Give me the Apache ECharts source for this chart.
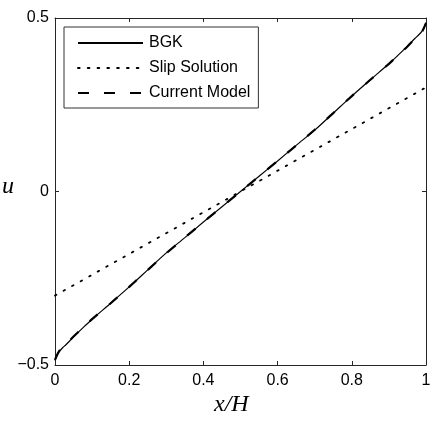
<!DOCTYPE html>
<html>
<head>
<meta charset="utf-8">
<script src="https://cdn.jsdelivr.net/npm/echarts@6/dist/echarts.min.js"></script>
<style>html,body{margin:0;padding:0;background:#fff}#c{width:432px;height:426px}</style>
</head>
<body>
<div id="c"></div>
<script>
// Data
var bgkX = [0, 0.005, 0.01, 0.02, 0.03, 0.05, 0.075, 0.1, 0.15, 0.2, 0.25, 0.3, 0.35, 0.4, 0.45, 0.5, 0.55, 0.6, 0.65, 0.7, 0.75, 0.8, 0.85, 0.9, 0.925, 0.95, 0.97, 0.98, 0.99, 0.995, 1];
var bgkU = [-0.487, -0.472, -0.463, -0.451, -0.441, -0.419, -0.393, -0.368, -0.322, -0.275, -0.226, -0.177, -0.133, -0.088, -0.044, 0, 0.044, 0.088, 0.133, 0.177, 0.226, 0.275, 0.322, 0.368, 0.393, 0.419, 0.441, 0.451, 0.463, 0.472, 0.487];
var modelX = [0, 0.01, 0.02, 0.03, 0.05, 0.075, 0.1, 0.15, 0.2, 0.25, 0.3, 0.4, 0.5, 0.6, 0.7, 0.75, 0.8, 0.85, 0.9, 0.925, 0.95, 0.97, 0.98, 0.99, 1];
var modelU = [-0.485, -0.462, -0.450, -0.440, -0.418, -0.393, -0.368, -0.322, -0.275, -0.226, -0.178, -0.088, 0, 0.088, 0.178, 0.226, 0.275, 0.322, 0.368, 0.393, 0.418, 0.440, 0.450, 0.462, 0.485];
var slipX = [0, 1];
var slipU = [-0.3, 0.3];
var seriesNames = ['BGK', 'Slip Solution', 'Current Model'];
var xTicks = [0, 0.2, 0.4, 0.6, 0.8, 1];
var yTicks = [-0.5, 0, 0.5];

function pairs(xs, ys) { return xs.map(function (x, i) { return [x, ys[i]]; }); }

var axisColor = '#262626';
var labelFont = { color: '#000', fontFamily: 'Liberation Sans, Arial, sans-serif', fontSize: 16 };
function fmt(v) { return String(v).replace('-', '\u2212'); }

var chart = echarts.init(document.getElementById('c'), null, { renderer: 'canvas' });
chart.setOption({
  animation: false,
  backgroundColor: '#fff',
  grid: { left: 55, right: 6, top: 18, bottom: 61, outerBoundsMode: 'none' },
  legend: {
    orient: 'vertical',
    left: 64, top: 27,
    padding: [8, 8, 7, 13],
    itemWidth: 65, itemHeight: 14, itemGap: 9,
    backgroundColor: '#fff',
    borderColor: '#333', borderWidth: 1, borderRadius: 0,
    itemStyle: { opacity: 0 },
    textStyle: { color: '#000', fontFamily: 'Liberation Sans, Arial, sans-serif', fontSize: 16, padding: [0, 0, 0, 1] },
    data: seriesNames
  },
  xAxis: [{
    type: 'value', min: 0, max: 1, interval: 0.2, position: 'bottom',
    splitLine: { show: false },
    axisLine: { show: true, onZero: false, lineStyle: { color: axisColor, width: 1 } },
    axisTick: { show: true, inside: true, length: 4, lineStyle: { color: axisColor } },
    axisLabel: Object.assign({ margin: 8, formatter: fmt }, labelFont)
  }, {
    type: 'value', min: 0, max: 1, interval: 0.2, position: 'top',
    splitLine: { show: false },
    axisLine: { show: true, onZero: false, lineStyle: { color: axisColor, width: 1 } },
    axisTick: { show: true, inside: true, length: 4, lineStyle: { color: axisColor } },
    axisLabel: { show: false }
  }],
  yAxis: [{
    type: 'value', min: -0.5, max: 0.5, interval: 0.5, position: 'left',
    splitLine: { show: false },
    axisLine: { show: true, onZero: false, lineStyle: { color: axisColor, width: 1 } },
    axisTick: { show: true, inside: true, length: 4, lineStyle: { color: axisColor } },
    axisLabel: Object.assign({ margin: 6, formatter: fmt }, labelFont)
  }, {
    type: 'value', min: -0.5, max: 0.5, interval: 0.5, position: 'right',
    splitLine: { show: false },
    axisLine: { show: true, onZero: false, lineStyle: { color: axisColor, width: 1 } },
    axisTick: { show: true, inside: true, length: 4, lineStyle: { color: axisColor } },
    axisLabel: { show: false }
  }],
  graphic: [
    { type: 'text', left: 2, top: 175, style: { text: 'u', fill: '#000', font: 'italic 24px "Liberation Serif", "Times New Roman", serif' } },
    { type: 'text', left: 214, top: 393, style: { text: 'x/H', fill: '#000', font: 'italic 24px "Liberation Serif", "Times New Roman", serif' } }
  ],
  series: [{
    name: seriesNames[0], type: 'line', xAxisIndex: 0, yAxisIndex: 0,
    data: pairs(bgkX, bgkU), showSymbol: false, symbol: 'none', smooth: 0.3,
    lineStyle: { color: '#000', width: 1.2, type: 'solid' }, itemStyle: { color: '#000' }, z: 3
  }, {
    name: seriesNames[1], type: 'line', xAxisIndex: 0, yAxisIndex: 0,
    data: pairs(slipX, slipU), showSymbol: false, symbol: 'none',
    lineStyle: { color: '#000', width: 1.8, type: [1.6, 8.2], cap: 'round' }, itemStyle: { color: '#000' }, z: 2
  }, {
    name: seriesNames[2], type: 'line', xAxisIndex: 0, yAxisIndex: 0,
    data: pairs(modelX, modelU), showSymbol: false, symbol: 'none', smooth: 0.3,
    lineStyle: { color: '#000', width: 2.2, type: [11, 15] }, itemStyle: { color: '#000' }, z: 4
  }]
});
</script>
</body>
</html>
